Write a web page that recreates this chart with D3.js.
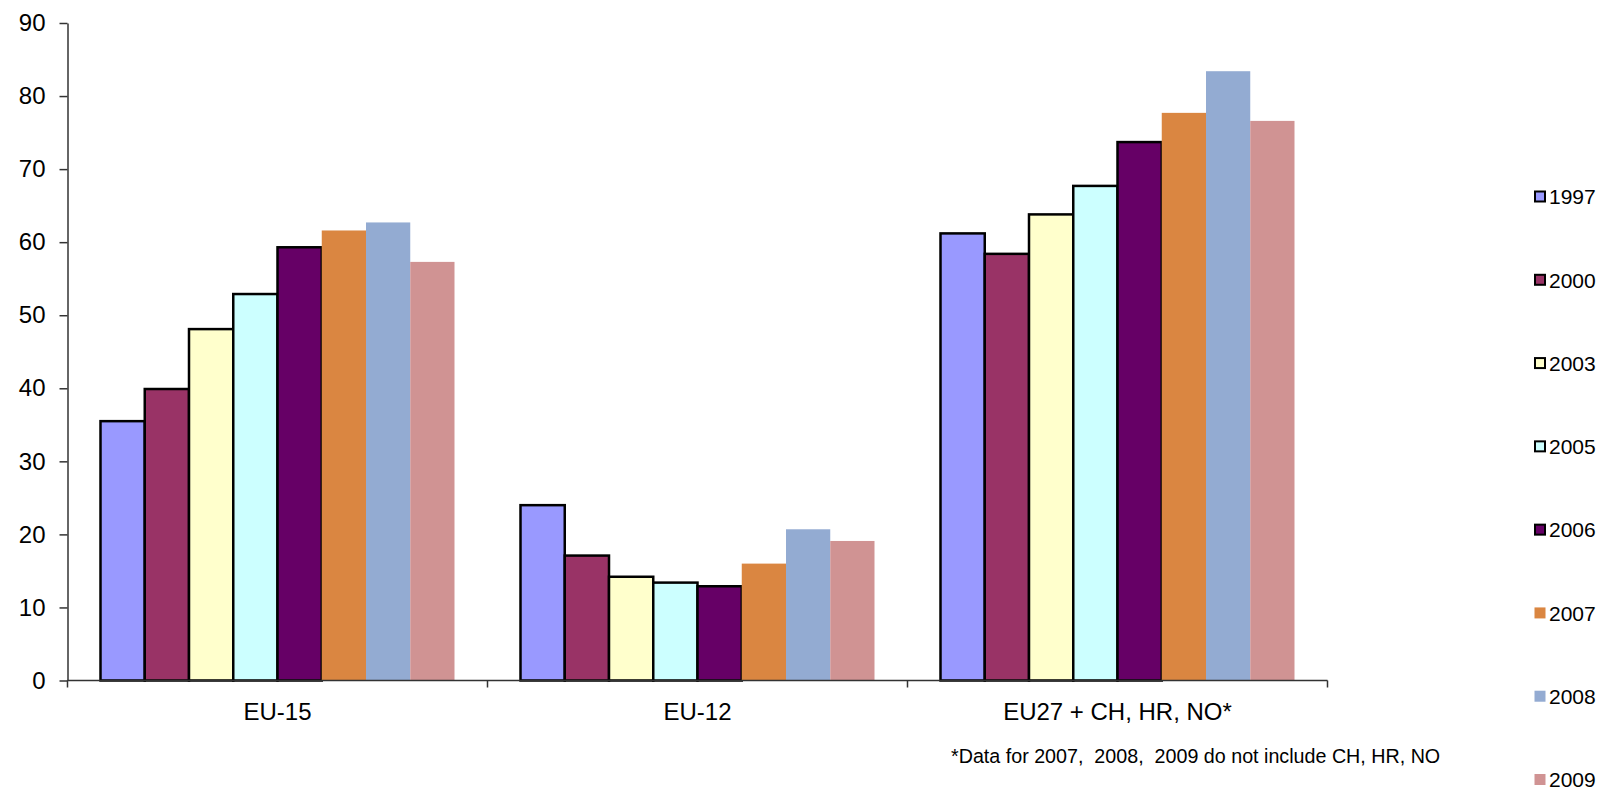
<!DOCTYPE html>
<html>
<head>
<meta charset="utf-8">
<script src="https://cdn.jsdelivr.net/npm/d3@7"></script>
<style>
  html, body { margin: 0; padding: 0; background: #fff; }
  svg { display: block; font-family: "Liberation Sans", Arial, sans-serif; }
</style>
</head>
<body>
<svg id="chart" width="1604" height="796"></svg>
<script>
const categories = ["EU-15", "EU-12", "EU27 + CH, HR, NO*"];
const years = ["1997", "2000", "2003", "2005", "2006", "2007", "2008", "2009"];
const values1997 = [35.5, 24.0, 61.2];
const values2000 = [39.9, 17.1, 58.4];
const values2003 = [48.1, 14.2, 63.8];
const values2005 = [52.9, 13.4, 67.7];
const values2006 = [59.3, 12.9, 73.7];
const values2007 = [61.6, 16.0, 77.7];
const values2008 = [62.7, 20.7, 83.4];
const values2009 = [57.3, 19.1, 76.6];
const yTicks = [0, 10, 20, 30, 40, 50, 60, 70, 80, 90];
const footnote = "*Data for 2007,  2008,  2009 do not include CH, HR, NO";

const seriesValues = [values1997, values2000, values2003, values2005, values2006, values2007, values2008, values2009];
const colors = ["#9999FF", "#993366", "#FFFFCC", "#CCFFFF", "#660066", "#DA8641", "#93ABD2", "#D09393"];
const outlined = [true, true, true, true, true, false, false, false];

const svg = d3.select("#chart");
const mLeft = 67.5, mRight = 1327.5, mTop = 23, mBottom = 680.5;

const y = d3.scaleLinear().domain([0, 90]).range([mBottom, mTop]);
const x0 = d3.scaleBand().domain(categories).range([mLeft, mRight]).padding(0);
const groupPad = 33;
const x1 = d3.scaleBand().domain(years).range([groupPad, x0.bandwidth() - groupPad]).padding(0);

// bars
const g = svg.append("g");
categories.forEach((cat, ci) => {
  years.forEach((yr, si) => {
    const v = seriesValues[si][ci];
    const r = g.append("rect")
      .attr("x", x0(cat) + x1(yr))
      .attr("y", y(v))
      .attr("width", x1.bandwidth())
      .attr("height", y(0) - y(v))
      .attr("fill", colors[si]);
    if (outlined[si]) r.attr("stroke", "#000").attr("stroke-width", 2.5);
  });
});

// y axis
const yAxis = d3.axisLeft(y).tickValues(yTicks).tickSize(8).tickPadding(14).tickSizeOuter(0);
const ya = svg.append("g").attr("transform", `translate(${mLeft},0)`).call(yAxis);
ya.select(".domain").attr("stroke", "#333").attr("stroke-width", 1.5);
ya.selectAll(".tick line").attr("stroke", "#333").attr("stroke-width", 1.5);
ya.selectAll(".tick text").attr("font-size", 24).attr("fill", "#000")
  .attr("font-family", "Liberation Sans, Arial, sans-serif");

// x axis line and boundary ticks
const xa = svg.append("g");
xa.append("line").attr("x1", mLeft).attr("x2", mRight).attr("y1", y(0)).attr("y2", y(0))
  .attr("stroke", "#333").attr("stroke-width", 1.5);
const bounds = categories.map(c => x0(c)).concat([x0(categories[categories.length - 1]) + x0.bandwidth()]);
xa.selectAll("line.b").data(bounds).enter().append("line").attr("class", "b")
  .attr("x1", d => d).attr("x2", d => d).attr("y1", y(0)).attr("y2", y(0) + 7)
  .attr("stroke", "#333").attr("stroke-width", 1.5);
xa.selectAll("text").data(categories).enter().append("text")
  .attr("x", d => x0(d) + x0.bandwidth() / 2)
  .attr("y", 720)
  .attr("text-anchor", "middle")
  .attr("font-size", 24)
  .attr("fill", "#000")
  .text(d => d);

// footnote
svg.append("text").attr("x", 951).attr("y", 763).attr("font-size", 19.7).attr("fill", "#000")
  .style("white-space", "pre").text(footnote);

// legend
const legY = d3.scalePoint().domain(years).range([197, 780]);
const lg = svg.append("g");
years.forEach((yr, i) => {
  const cy = legY(yr);
  if (outlined[i]) {
    lg.append("rect").attr("x", 1535).attr("y", cy - 5.5).attr("width", 10).attr("height", 10)
      .attr("fill", colors[i]).attr("stroke", "#000").attr("stroke-width", 2);
  } else {
    lg.append("rect").attr("x", 1534.5).attr("y", cy - 6).attr("width", 11).attr("height", 11)
      .attr("fill", colors[i]);
  }
  lg.append("text").attr("x", 1549).attr("y", cy).attr("dy", "0.35em")
    .attr("font-size", 21).attr("fill", "#000").text(yr);
});
</script>
</body>
</html>
